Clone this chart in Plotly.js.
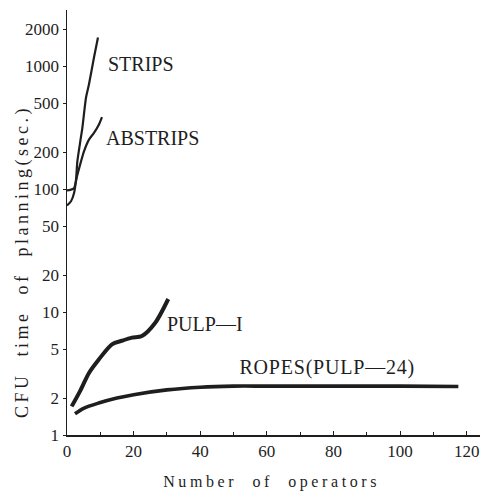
<!DOCTYPE html>
<html>
<head>
<meta charset="utf-8">
<script src="https://cdn.plot.ly/plotly-3.0.1.min.js"></script>
<style>html,body{margin:0;padding:0;background:#fff;}#chart{width:490px;height:493px;}</style>
</head>
<body>
<div id="chart"></div>
<script>
// Data
const stripsX = [0, 1.2, 2.1, 2.7, 3.1, 3.9, 4.6, 5.7, 6.6, 8.1, 9.3];
const stripsY = [74, 80, 93, 119, 168, 237, 315, 557, 716, 1185, 1720];
const abstripsX = [0, 1.0, 2.1, 3.1, 5.1, 6.6, 8.1, 9.6, 10.5];
const abstripsY = [98, 99, 102, 131, 204, 254, 288, 337, 387];
const pulpX = [1.4, 4, 6.6, 9.5, 13.5, 16.5, 19.5, 22.5, 26.5, 30.4];
const pulpY = [1.71, 2.3, 3.2, 4.1, 5.47, 5.85, 6.2, 6.4, 8.2, 12.8];
const ropesX = [2.4, 5, 9.5, 15, 20, 30, 40, 50, 60, 80, 100, 117.5];
const ropesY = [1.49, 1.65, 1.82, 2.0, 2.13, 2.33, 2.45, 2.5, 2.5, 2.5, 2.5, 2.48];
const yTickVals = [1, 2, 5, 10, 20, 50, 100, 200, 500, 1000, 2000];
const yTickText = ["1", "2", "5", "10", "20", "50", "100", "200", "500", "1000", "2000"];
const xTickVals = [0, 20, 40, 60, 80, 100, 120];
const seriesLabels = ["STRIPS", "ABSTRIPS", "PULP—I", "ROPES(PULP—24)"];
const labelX = [11.6, 11.0, 29.5, 52.8];
const labelY = [1050, 262, 7.95, 3.54];
const xTitle = "Number&nbsp; of&nbsp; operators";
const yTitle = "CFU&nbsp; time&nbsp; of&nbsp; planning(sec.)";

const ink = "#1e1e1e";
const serif = "'Liberation Serif', 'DejaVu Serif', serif";

const traces = [
  {x: stripsX, y: stripsY, mode: "lines", line: {color: ink, width: 2.2, shape: "spline", smoothing: 0.6}},
  {x: abstripsX, y: abstripsY, mode: "lines", line: {color: ink, width: 2.2, shape: "spline", smoothing: 0.6}},
  {x: pulpX, y: pulpY, mode: "lines", line: {color: ink, width: 4, shape: "spline", smoothing: 0.8}},
  {x: ropesX, y: ropesY, mode: "lines", line: {color: ink, width: 3.6, shape: "spline", smoothing: 0.8}}
];

const annotations = seriesLabels.map((t, i) => ({
  x: labelX[i], y: Math.log10(labelY[i]), xref: "x", yref: "y",
  text: t, showarrow: false, xanchor: "left", yanchor: "middle",
  font: {family: serif, size: 20, color: ink}
}));
annotations.push({
  x: 0.495, y: -0.111, xref: "paper", yref: "paper", text: xTitle, showarrow: false,
  xanchor: "center", yanchor: "middle", font: {family: serif, size: 16, color: ink}
});
annotations.push({
  x: -0.109, y: 0.409, xref: "paper", yref: "paper", text: yTitle, showarrow: false, textangle: -90,
  xanchor: "center", yanchor: "middle", font: {family: serif, size: 18, color: ink}
});

const layout = {
  width: 490, height: 493,
  margin: {l: 67, r: 10, t: 10, b: 58},
  paper_bgcolor: "#fff", plot_bgcolor: "#fff",
  showlegend: false,
  font: {family: serif, color: ink, size: 17},
  xaxis: {
    range: [0, 124], showgrid: false, zeroline: false,
    showline: true, linecolor: ink, linewidth: 1.5,
    tickvals: xTickVals, ticks: "inside", ticklen: 4, tickcolor: ink,
    minor: {dtick: 10, ticks: "inside", ticklen: 3, tickcolor: ink},
    tickfont: {family: serif, size: 17, color: ink}
  },
  yaxis: {
    type: "log", range: [0, 3.46], showgrid: false, zeroline: false,
    showline: true, linecolor: ink, linewidth: 1.5,
    tickvals: yTickVals, ticktext: yTickText, ticks: "outside", ticklen: 3, tickcolor: ink,
    tickfont: {family: serif, size: 17, color: ink}
  },
  annotations: annotations
};

Plotly.newPlot("chart", traces, layout, {staticPlot: true, displayModeBar: false}).then(() => {
  document.querySelectorAll("#chart .annotation-text").forEach(el => {
    const t = el.textContent;
    if (t.indexOf("planning") >= 0) el.style.letterSpacing = "3.5px";
    else if (t.indexOf("operators") >= 0) el.style.letterSpacing = "3.6px";
    else if (t.indexOf("ROPES") >= 0) el.style.letterSpacing = "0.8px";
  });
});
</script>
</body>
</html>
